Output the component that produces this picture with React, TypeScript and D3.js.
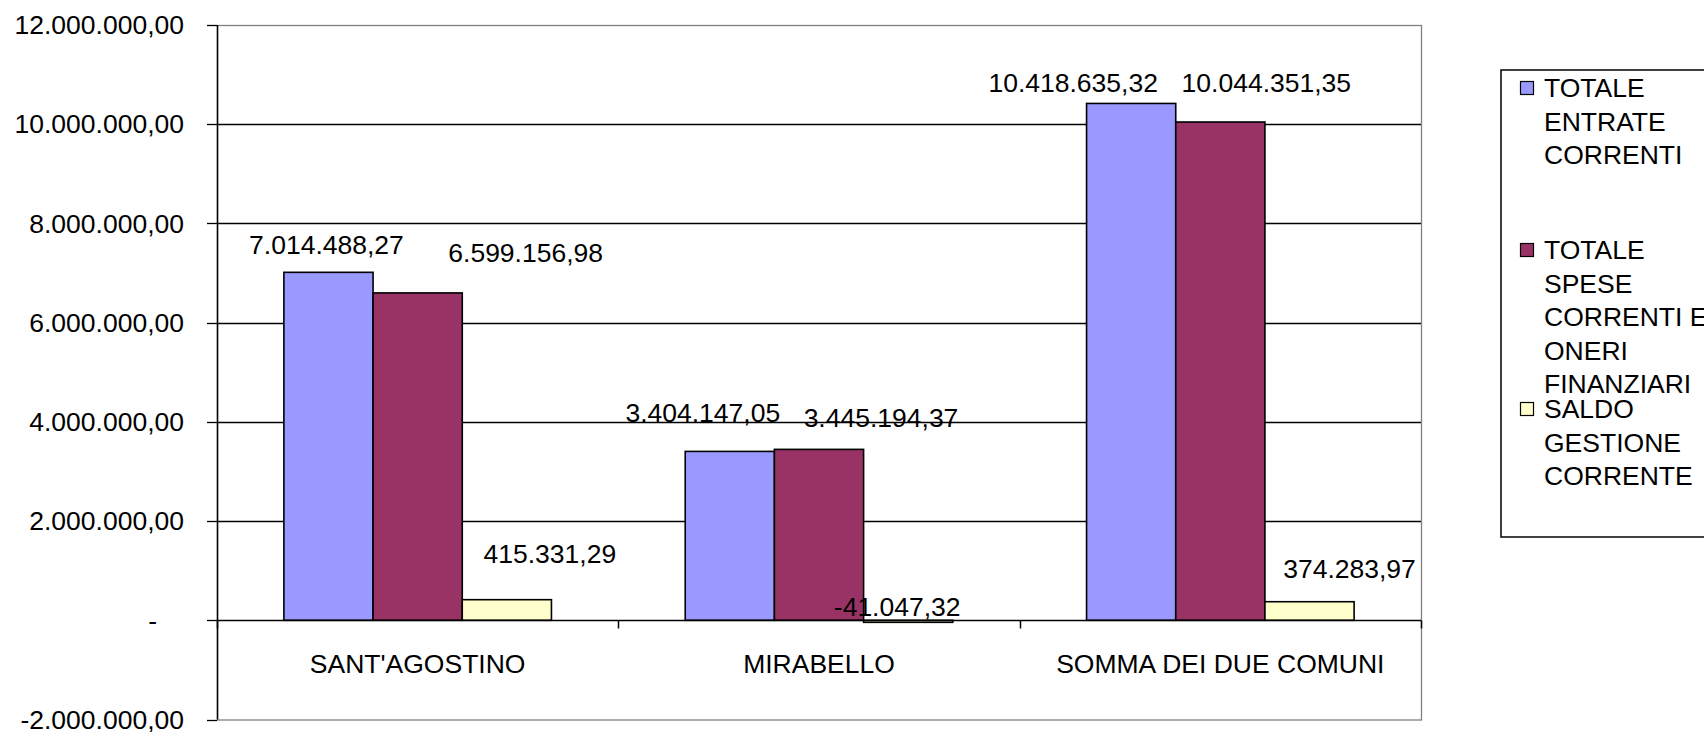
import React from 'react';
import * as d3 from 'd3';

// ==================== DATA ====================
const CATEGORIES = ["SANT'AGOSTINO", 'MIRABELLO', 'SOMMA DEI DUE COMUNI'];
const SERIES = ['TOTALE ENTRATE CORRENTI', 'TOTALE SPESE CORRENTI E ONERI FINANZIARI', 'SALDO GESTIONE CORRENTE'];
const ENTRATE = [7014488.27, 3404147.05, 10418635.32];
const SPESE = [6599156.98, 3445194.37, 10044351.35];
const SALDO = [415331.29, -41047.32, 374283.97];
const Y_TICKS = [-2000000, 0, 2000000, 4000000, 6000000, 8000000, 10000000, 12000000];
// legend text as wrapped in the original
const LEGEND_LINES = [
    ['TOTALE', 'ENTRATE', 'CORRENTI'],
    ['TOTALE', 'SPESE', 'CORRENTI E', 'ONERI', 'FINANZIARI'],
    ['SALDO', 'GESTIONE', 'CORRENTE'],
];

// ==================== STYLE ====================
const COLORS = ['#9999FF', '#993366', '#FFFFCC'];
const FONT = "'Liberation Sans', Arial, sans-serif";
const FS = 26.5;
const W = 1704;
const H = 732;
const plot = { left: 217, right: 1421, top: 25, bottom: 719.5 };

// labels were hand-moved in the original workbook: offsets from bar top (px)
const labelNudge = [
    [[-2, -28], [108, -40], [43, -46]],
    [[-27, -39], [62, -32], [-11, -16]],
    [[-58, -21], [46, -39], [40, -33]],
];
const legendRowY = [88, 250, 409];

const it = d3.formatLocale({ decimal: ',', thousands: '.', grouping: [3], currency: ['', ''], minus: '-' });
const fmt = it.format(',.2f');

const App = () => {
    const values = [ENTRATE, SPESE, SALDO];

    const y = d3.scaleLinear().domain([-2000000, 12000000]).range([plot.bottom, plot.top]);
    const x = d3.scaleBand().domain(CATEGORIES).range([plot.left, plot.right]);
    // Excel gap width 150%
    const xs = d3.scaleBand().domain(SERIES).range([0, x.bandwidth()]).paddingOuter(0.75).paddingInner(0);
    const y0 = Math.round(y(0)) + 0.5;

    return (
        <svg width={W} height={H} style={{ position: 'absolute', left: 0, top: 0, background: '#fff' }}
            fontFamily={FONT}>
            <rect x={0} y={0} width={W} height={H} fill="#fff" />

            {/* gridlines */}
            {Y_TICKS.filter(t => t > 0 && t < 12000000).map(t => (
                <line key={t} x1={plot.left} x2={plot.right} y1={Math.round(y(t)) + 0.5} y2={Math.round(y(t)) + 0.5}
                    stroke="#000" strokeWidth={1.3} />
            ))}

            {/* plot border */}
            <rect x={plot.left + 0.5} y={plot.top + 0.5} width={plot.right - plot.left} height={plot.bottom - plot.top}
                fill="none" stroke="#808080" strokeWidth={1.3} />

            {/* bars */}
            {CATEGORIES.map((c, ci) => SERIES.map((s, si) => {
                const v = values[si][ci];
                const bx = x(c) + xs(s);
                const top = Math.min(y(v), y(0));
                const h = Math.abs(y(v) - y(0));
                return (
                    <rect key={c + s} x={bx} y={top} width={xs.bandwidth()} height={Math.max(h, 1)}
                        fill={COLORS[si]} stroke="#000" strokeWidth={1.6} />
                );
            }))}

            {/* y axis */}
            <line x1={plot.left + 0.5} x2={plot.left + 0.5} y1={plot.top} y2={plot.bottom} stroke="#000" strokeWidth={1.5} />
            {Y_TICKS.map(t => (
                <g key={t}>
                    <line x1={plot.left - 10} x2={plot.left} y1={Math.round(y(t)) + 0.5} y2={Math.round(y(t)) + 0.5}
                        stroke="#000" strokeWidth={1.3} />
                    <text x={t === 0 ? 157 : 184} y={y(t)} dy="0.35em" textAnchor="end" fontSize={FS} fill="#000">
                        {t === 0 ? '-' : fmt(t)}
                    </text>
                </g>
            ))}

            {/* category axis at zero */}
            <line x1={plot.left} x2={plot.right} y1={y0} y2={y0} stroke="#000" strokeWidth={1.5} />
            {[...CATEGORIES.map(c => x(c)), plot.right].map((px, i) => (
                <line key={i} x1={Math.round(px) + 0.5} x2={Math.round(px) + 0.5} y1={y0} y2={y0 + 8} stroke="#000" strokeWidth={1.5} />
            ))}
            {CATEGORIES.map(c => (
                <text key={c} x={x(c) + x.bandwidth() / 2} y={664} dy="0.35em" textAnchor="middle" fontSize={FS} fill="#000">
                    {c}
                </text>
            ))}

            {/* value labels */}
            {CATEGORIES.map((c, ci) => SERIES.map((s, si) => {
                const v = values[si][ci];
                const [dx, dy] = labelNudge[ci][si];
                return (
                    <text key={'l' + c + s} x={x(c) + xs(s) + xs.bandwidth() / 2 + dx} y={y(v) + dy} dy="0.35em"
                        textAnchor="middle" fontSize={FS} fill="#000">
                        {fmt(v)}
                    </text>
                );
            }))}

            {/* legend */}
            <rect x={1501} y={70} width={240} height={467} fill="#fff" stroke="#000" strokeWidth={1.5} />
            {LEGEND_LINES.map((lines, i) => {
                const ly = legendRowY[i];
                return (
                    <g key={i}>
                        <rect x={1520.5} y={ly - 6.5} width={13} height={13} fill={COLORS[i]} stroke="#000" strokeWidth={1.2} />
                        {lines.map((t, j) => (
                            <text key={j} x={1544} y={ly + j * 33.5} dy="0.35em" fontSize={FS} fill="#000">{t}</text>
                        ))}
                    </g>
                );
            })}
        </svg>
    );
};

export default App;
